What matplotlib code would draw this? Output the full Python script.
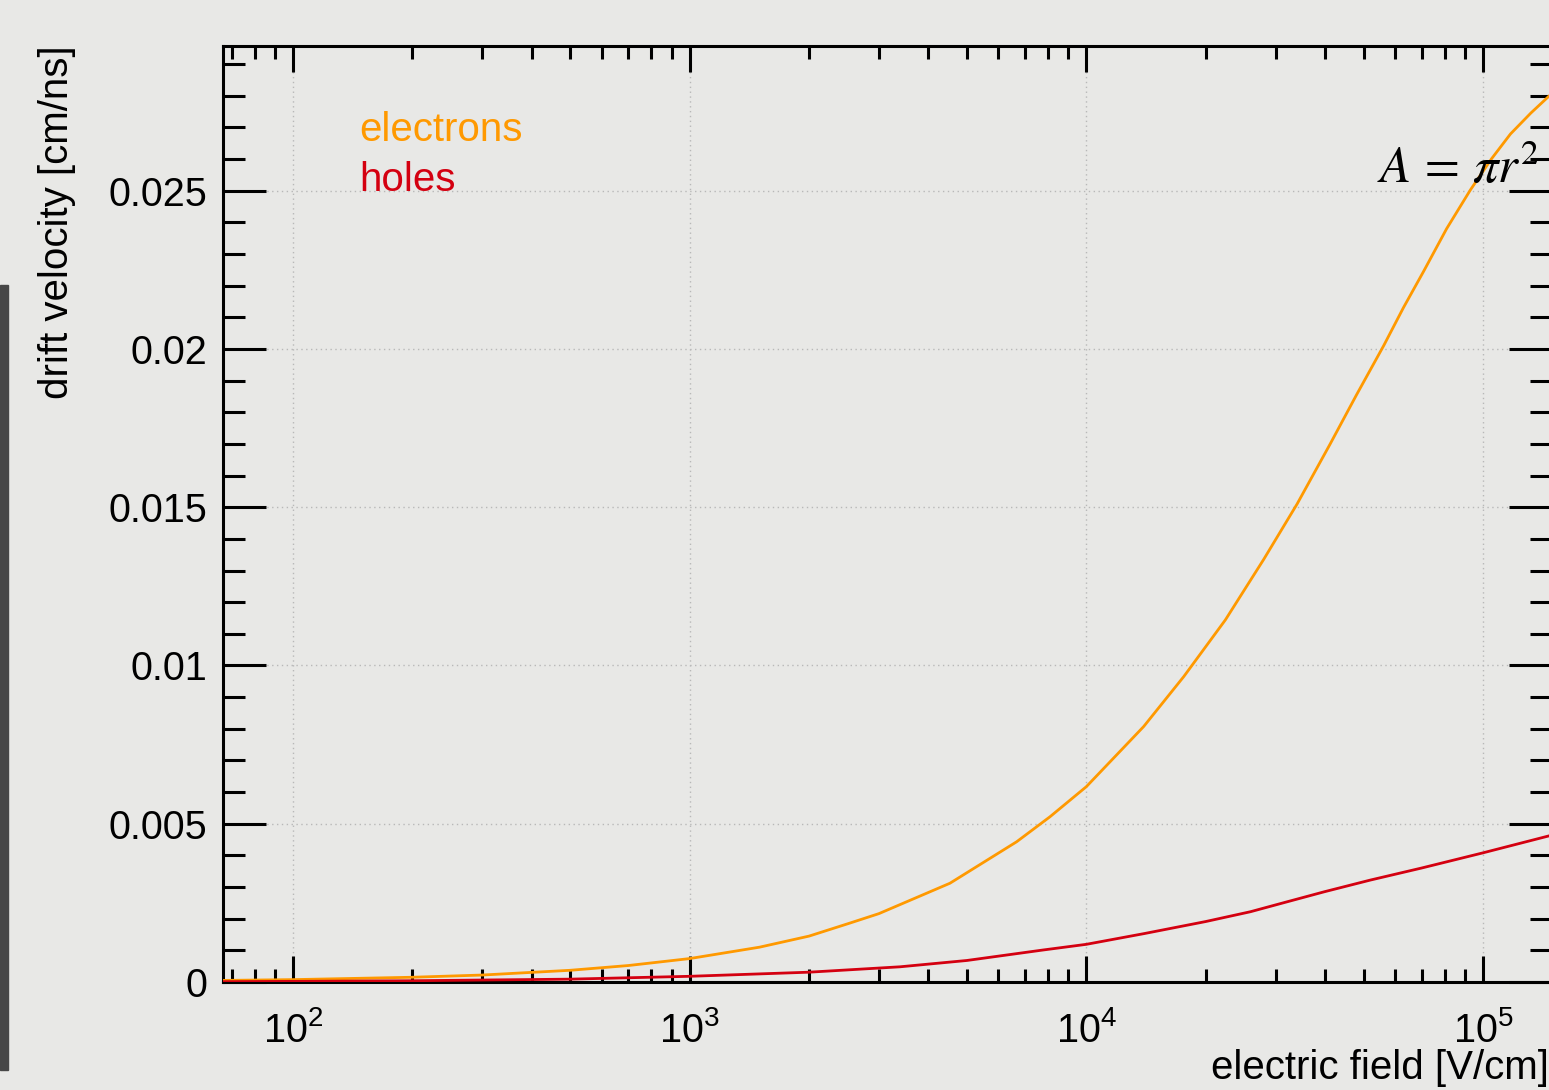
import numpy as np
import matplotlib
matplotlib.use("Agg")
from matplotlib import pyplot as plt
from matplotlib.ticker import LogLocator, MultipleLocator, FixedFormatter, FixedLocator, NullFormatter
from matplotlib.patches import Rectangle

# drift velocity vs electric field
field_e = [66.6, 100, 200, 300, 500, 700, 1000, 1500, 2000, 2533, 3000, 4531, 6673,
           8098, 10000, 13950, 17610, 22420, 28000, 33990, 41200, 48000, 56180, 63000,
           70850, 81000, 92930, 105000, 117300, 132000, 147100, 149300]
vel_e = [0.00005, 0.000075, 0.00015, 0.00022, 0.00037, 0.00052, 0.00074, 0.00110,
         0.00145, 0.00186, 0.00216, 0.00312, 0.00443, 0.00522, 0.00617, 0.00807,
         0.00965, 0.01144, 0.01335, 0.01510, 0.01700, 0.01855, 0.02010, 0.02130,
         0.02245, 0.02380, 0.02502, 0.02600, 0.02679, 0.02745, 0.02800, 0.02805]

field_h = [66.6, 100, 200, 500, 1000, 2000, 3390, 5000, 7770, 10000, 14000, 20000,
           25930, 32000, 39800, 52000, 70000, 100000, 147100, 149300]
vel_h = [0.00001, 0.00002, 0.00004, 0.00009, 0.00018, 0.00031, 0.00048, 0.00068,
         0.00101, 0.00119, 0.00153, 0.00191, 0.00222, 0.00253, 0.00285, 0.00322,
         0.00360, 0.00408, 0.00462, 0.00464]

x_major = [1e2, 1e3, 1e4, 1e5]
x_labels = [r"$\mathregular{10^{2}}$", r"$\mathregular{10^{3}}$",
            r"$\mathregular{10^{4}}$", r"$\mathregular{10^{5}}$"]
y_major = [0, 0.005, 0.01, 0.015, 0.02, 0.025]
y_labels = ["0", "0.005", "0.01", "0.015", "0.02", "0.025"]

plt.rcParams['font.family'] = ['Liberation Sans', 'DejaVu Sans']
plt.rcParams['mathtext.fontset'] = 'custom'
plt.rcParams['mathtext.rm'] = 'Liberation Sans'
plt.rcParams['mathtext.it'] = 'Liberation Sans:italic'

W, H = 1549, 1090
bg = '#e8e8e6'
fig = plt.figure(figsize=(W / 100, H / 100), dpi=100, facecolor=bg)

# dark bar at the left border
fig.patches.append(Rectangle((0, 1 - 1070 / H), 8 / W, 785 / H,
                             transform=fig.transFigure, color='#474747', zorder=0))

ax = fig.add_axes([223 / W, 1 - 982 / H, (1552 - 223) / W, (982 - 46) / H])
ax.set_facecolor('none')
ax.set_xscale('log')
ax.set_xlim(66.6, 1.493e5)
ax.set_ylim(0, 0.02957)

ax.plot(field_e, vel_e, color='#ff9900', lw=2.0, zorder=3, solid_joinstyle='round')
ax.plot(field_h, vel_h, color='#d40010', lw=2.0, zorder=3, solid_joinstyle='round')

ax.xaxis.set_major_locator(FixedLocator(x_major))
ax.xaxis.set_major_formatter(FixedFormatter(x_labels))
ax.xaxis.set_minor_locator(LogLocator(base=10, subs=np.arange(2, 10)))
ax.xaxis.set_minor_formatter(NullFormatter())
ax.yaxis.set_major_locator(FixedLocator(y_major))
ax.yaxis.set_major_formatter(FixedFormatter(y_labels))
ax.yaxis.set_minor_locator(MultipleLocator(0.001))

ax.grid(True, which='major', color='#b8b8b8', lw=1.0, linestyle=(0, (1, 2.5)))
ax.set_axisbelow(True)

for s in ax.spines.values():
    s.set_linewidth(2.2)
ax.tick_params(axis='both', which='both', direction='in', width=2.2, color='black',
               top=True, right=True)
ax.tick_params(axis='y', which='major', length=31, pad=11.5, labelsize=28.5)
ax.tick_params(axis='y', which='minor', length=16)
ax.tick_params(axis='x', which='major', length=19, pad=21, labelsize=28.5)
ax.tick_params(axis='x', which='minor', length=9.5)

fig.text(57 / W, 1 - 45 / H, "drift velocity [cm/ns]", rotation=90,
         ha='center', va='top', fontsize=29)
fig.text(1549 / W, 1 - 1068 / H, "electric field [V/cm]", ha='right', va='center',
         fontsize=29)

fig.text(359 / W, 1 - 141 / H, "electrons", color='#ff9900', fontsize=29,
         ha='left', va='baseline')
fig.text(359 / W, 1 - 191 / H, "holes", color='#d40010', fontsize=29,
         ha='left', va='baseline')

fig.text(1377 / W, 1 - 183 / H, r"$A\,=\,\pi r^{2}$", math_fontfamily='stix',
         fontsize=36.5, ha='left', va='baseline', zorder=5)

fig.savefig("out.png", dpi=100, facecolor=bg)
